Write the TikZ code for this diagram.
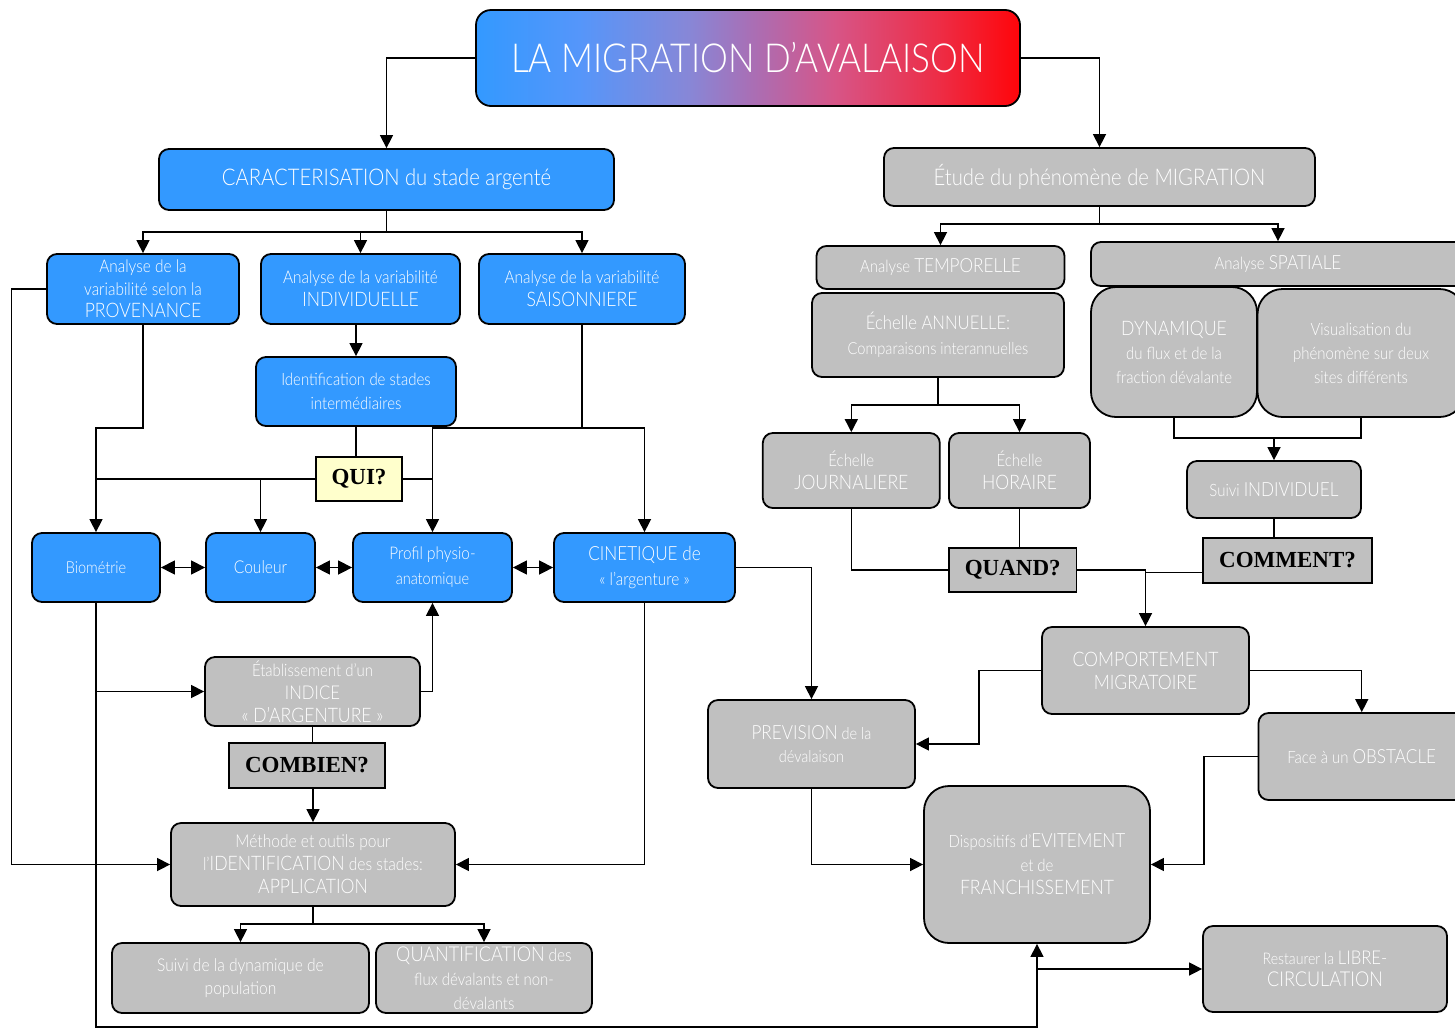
\documentclass[tikz,border=0pt]{standalone}
\usepackage{fontspec}
\setmainfont{Lato Light}[FakeStretch=0.88]
\newfontfamily\qfont{Liberation Serif}
\usetikzlibrary{arrows.meta,calc}
\definecolor{cblue}{RGB}{51,153,255}
\definecolor{cgray}{RGB}{192,192,192}
\definecolor{cyellow}{RGB}{255,255,204}
\definecolor{gA}{RGB}{85,150,250}
\definecolor{gB}{RGB}{135,135,215}
\definecolor{gC}{RGB}{170,110,180}
\definecolor{gD}{RGB}{215,85,135}
\definecolor{gE}{RGB}{237,45,70}
\definecolor{gF}{RGB}{255,5,10}
% blue-to-red band of the title (the node spans 25bp..75bp)
\pgfdeclarehorizontalshading{titleshade}{100bp}{color(0bp)=(cblue); color(25bp)=(cblue);
  color(34.5bp)=(gA); color(44.5bp)=(gB); color(50.5bp)=(gC); color(58bp)=(gD);
  color(67.5bp)=(gE); color(75bp)=(gF); color(100bp)=(gF)}
\newcommand\fsz[2]{\fontsize{#1}{#2}\selectfont}
% capitals are set a little larger than the lower-case words around them
\newcommand\uc[1]{{\fontsize{20}{23}\selectfont #1}}

\begin{document}
\begin{tikzpicture}[x=1pt,y=-1pt,
  box/.style={draw=black,line width=1.8pt,rounded corners=10pt,text=white,
    align=center,inner sep=0pt,font=\fsz{17}{23}},
  bbox/.style={box,fill=cblue},
  gbox/.style={box,fill=cgray},
  qbox/.style={draw=black,line width=1.6pt,inner sep=0pt,
    font=\qfont\bfseries\fsz{23}{23}},
  link/.style={line width=1.45pt},
  arr/.style={link,-{Triangle[length=13pt,width=13pt]}},
  darr/.style={link,{Triangle[length=14pt,width=14pt]}-{Triangle[length=14pt,width=14pt]}}]

\useasboundingbox (0,0) rectangle (1455,1029);
\clip (0,0) rectangle (1455,1029);
\fill[white] (0,0) rectangle (1455,1029);

% ---- title
\node[box,shading=titleshade,
  rounded corners=15pt,minimum width=544,minimum height=96,
  font=\fsz{40}{40}] (title) at (748,58) {LA MIGRATION D’AVALAISON};

% ---- left branch: characterisation
\node[bbox,minimum width=455,minimum height=61,font=\fsz{23}{23}] (carac) at (386.5,179.5)
  {CARACTERISATION du stade argenté};
\node[bbox,minimum width=192,minimum height=70,font=\fsz{17.5}{22.5}] (prov) at (143,289)
  {Analyse de la\\variabilité selon la\\\uc{PROVENANCE}};
\node[bbox,minimum width=199,minimum height=70,font=\fsz{17.5}{23}] (indiv) at (360.5,289)
  {Analyse de la variabilité\\\uc{INDIVIDUELLE}};
\node[bbox,minimum width=206,minimum height=70,font=\fsz{17.5}{23}] (sais) at (582,289)
  {Analyse de la variabilité\\\uc{SAISONNIERE}};
\node[bbox,minimum width=200,minimum height=69,font=\fsz{17}{24}] (ident) at (356,391.5)
  {Identification de stades\\intermédiaires};
\node[qbox,fill=cyellow,minimum width=86,minimum height=44] (qui) at (359,479) {QUI?};

\node[bbox,minimum width=128,minimum height=69,font=\fsz{16.5}{23}] (bio) at (96,567.5) {Biométrie};
\node[bbox,minimum width=109,minimum height=69,font=\fsz{17.7}{23}] (coul) at (260.5,567.5) {Couleur};
\node[bbox,minimum width=159,minimum height=69,font=\fsz{17.4}{25}] (prof) at (432.5,567.5)
  {Profil physio-\\{\fsz{16.5}{25}anatomique}};
\node[bbox,minimum width=181,minimum height=69,font=\fsz{17.5}{25}] (cine) at (644.5,567.5)
  {{\fsz{19.5}{25}CINETIQUE de}\\« l’argenture »};

\node[gbox,minimum width=215,minimum height=69] (etab) at (312.5,691.5)
  {Établissement d’un\\{\fsz{19}{23}INDICE}\\\uc{« D’ARGENTURE »}};
\node[qbox,fill=cgray,minimum width=156,minimum height=45] (combien) at (307,765.5) {COMBIEN?};
\node[gbox,minimum width=284,minimum height=83,font=\fsz{17.7}{23}] (methode) at (313,864.5)
  {Méthode et outils pour\\l’\uc{IDENTIFICATION} des stades:\\\uc{APPLICATION}};
\node[gbox,minimum width=257,minimum height=70,font=\fsz{17.7}{23}] (suivi) at (240.5,978)
  {Suivi de la dynamique de\\population};
\node[gbox,minimum width=216,minimum height=70,font=\fsz{17}{24}] (quant) at (484,978)
  {{\fsz{20.5}{24}QUANTIFICATION} {\fsz{17.5}{24}des}\\flux dévalants et non-\\dévalants};

% ---- right branch: migration study
\node[gbox,minimum width=431,minimum height=58,font=\fsz{23}{23}] (etude) at (1099.5,177)
  {Étude du phénomène de MIGRATION};
\node[gbox,minimum width=248,minimum height=43] (tempo) at (940.5,267.5)
  {Analyse {\fsz{19.5}{20}TEMPORELLE}};
\node[gbox,minimum width=252,minimum height=84,font=\fsz{16.6}{25}] (annu) at (938,335)
  {{\fsz{19}{25}Échelle ANNUELLE:}\\Comparaisons interannuelles};
\node[gbox,minimum width=374,minimum height=44] (spat) at (1278,264)
  {Analyse {\fsz{19.5}{20}SPATIALE}};
\node[gbox,rounded corners=25pt,minimum width=166,minimum height=130,font=\fsz{17}{24}] (dyna) at (1174,352)
  {\uc{DYNAMIQUE}\\du flux et de la\\fraction dévalante};
\node[gbox,rounded corners=25pt,minimum width=207,minimum height=128,font=\fsz{17}{24}] (visu) at (1361,353)
  {Visualisation du\\phénomène sur deux\\sites différents};
\node[gbox,minimum width=177,minimum height=75] (journ) at (851.3,470.5)
  {Échelle\\\uc{JOURNALIERE}};
\node[gbox,minimum width=141,minimum height=75] (hora) at (1019.5,470.5)
  {Échelle\\\uc{HORAIRE}};
\node[gbox,minimum width=174,minimum height=57] (suiviind) at (1274,489.5)
  {Suivi {\fsz{19.5}{20}INDIVIDUEL}};
\node[qbox,fill=cgray,minimum width=127.5,minimum height=44] (quand) at (1012.75,570) {QUAND?};
\node[qbox,fill=cgray,minimum width=169,minimum height=45] (comment) at (1287.5,560.5) {COMMENT?};
\node[gbox,minimum width=207,minimum height=87] (compo) at (1145.5,670.5)
  {\uc{COMPORTEMENT}\\\uc{MIGRATOIRE}};
\node[gbox,minimum width=207,minimum height=88,font=\fsz{16.5}{23}] (prev) at (811.5,744)
  {{\fsz{19.5}{23}PREVISION} de la\\dévalaison};
\node[gbox,minimum width=206.5,minimum height=87] (face) at (1361.75,756.5)
  {Face à un {\fsz{19.5}{23}OBSTACLE}};
\node[gbox,rounded corners=25pt,minimum width=226,minimum height=157,font=\fsz{17}{23.5}] (dispo) at (1037,864.5)
  {Dispositifs d’{\fsz{19.5}{23}EVITEMENT}\\et de\\\uc{FRANCHISSEMENT}};
\node[gbox,minimum width=244,minimum height=86,font=\fsz{16}{22}] (rest) at (1325,969)
  {Restaurer la {\fsz{19}{22}LIBRE-}\\{\fsz{20.5}{22}CIRCULATION}};

% ---- bend points of the connectors
\coordinate (cbus) at (386.5,232);
\coordinate (row428) at (0,428);
\coordinate (lftcol) at (11.5,0);
\coordinate (botrow) at (0,1027);
\coordinate (mbus) at (313,924);
\coordinate (ebus) at (1099.5,224);
\coordinate (abus) at (938,405);
\coordinate (dbus) at (0,438);
\coordinate (colA) at (979,0);
\coordinate (colB) at (1204,0);
\coordinate (cw) at ([yshift=-12pt]comment.west);

% ---- connectors, left part
\draw[arr] (title.west) -| (carac.north);
\draw[arr] (title.east) -| (etude.north);
\draw[link] (carac.south) -- (cbus);
\draw[arr] (cbus) -| (prov.north);
\draw[arr] (cbus) -| (indiv.north);
\draw[arr] (cbus) -| (sais.north);
\draw[arr] (ident.north |- indiv.south) -- (ident.north);
\draw[arr] (prov.west) -- (prov.west -| lftcol) |- (methode.west);
\draw[arr] (prov.south) -- (prov.south |- row428) -| (bio.north);
\draw[link] (ident.south) -- (ident.south |- qui.north);
\draw[link] (qui.west) -- (qui.west -| bio.north);
\draw[arr] (qui.west -| coul.north) -- (coul.north);
\draw[link] (qui.east) -- (qui.east -| prof.north);
\draw[arr] (sais.south) -- (sais.south |- row428) -| (prof.north);
\draw[arr] (sais.south |- row428) -| (cine.north);
\draw[darr] (bio.east) -- (coul.west);
\draw[darr] (coul.east) -- (prof.west);
\draw[darr] (prof.east) -- (cine.west);
\draw[arr] (cine.east) -| (prev.north);
\draw[arr] (bio.south) -- (bio.south |- botrow) -| (dispo.south);
\draw[arr] (bio.south |- etab.west) -- (etab.west);
\draw[arr] (etab.east) -| (prof.south);
\draw[link] (etab.south) -- (etab.south |- combien.north);
\draw[arr] (methode.north |- combien.south) -- (methode.north);
\draw[arr] (cine.south) |- (methode.east);
\draw[link] (methode.south) -- (mbus);
\draw[arr] (mbus) -| (suivi.north);
\draw[arr] (mbus) -| (quant.north);

% ---- connectors, right part
\draw[link] (etude.south) -- (ebus);
\draw[arr] (ebus) -| (tempo.north);
\draw[arr] (ebus) -| (spat.north);
\draw[link] (annu.south) -- (abus);
\draw[arr] (abus) -| (journ.north);
\draw[arr] (abus) -| (hora.north);
\draw[link] (dyna.south) -- (dyna.south |- dbus) -- (visu.south |- dbus) -- (visu.south);
\draw[arr] (suiviind.north |- dbus) -- (suiviind.north);
\draw[link] (journ.south) |- (quand.west);
\draw[link] (hora.south) -- (hora.south |- quand.north);
\draw[link] (suiviind.south) -- (suiviind.south |- comment.north);
\draw[arr] (quand.east) -| (compo.north);
\draw[link] (cw) -- (cw -| compo.north);
\draw[arr] (compo.west) -- (compo.west -| colA) |- (prev.east);
\draw[arr] (compo.east) -| (face.north);
\draw[arr] (prev.south) |- (dispo.west);
\draw[arr] (face.west) -- (face.west -| colB) |- (dispo.east);
\draw[arr] (dispo.south |- rest.west) -- (rest.west);
\end{tikzpicture}
\end{document}
